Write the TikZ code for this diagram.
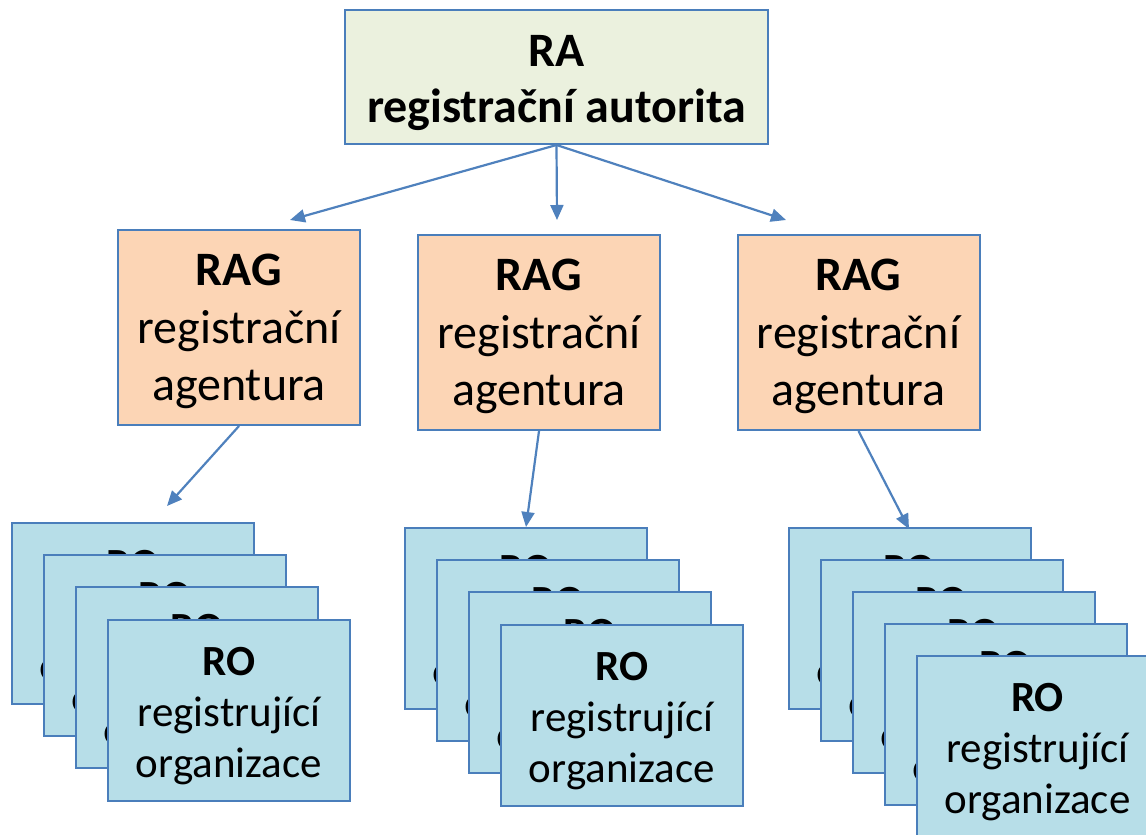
\documentclass[tikz,border=0pt]{standalone}
\usepackage{fontspec}
\setmainfont{Carlito}
\usetikzlibrary{arrows.meta}
\definecolor{edgeblue}{HTML}{4A7EBB}
\definecolor{arrowblue}{HTML}{4F81BD}
\definecolor{rafill}{HTML}{EBF1DE}
\definecolor{ragfill}{HTML}{FCD5B5}
\definecolor{rofill}{HTML}{B7DEE8}
\newcommand\mkro[3]{\node[robox] (#1) at (#2,#3) {\rule{0pt}{40pt}\textbf{RO}\\registrující\\organizace};}
\newcommand\mkrag[3]{\node[ragbox] (#1) at (#2,#3) {\rule{0pt}{40pt}\textbf{RAG}\\registrační\\agentura};}
\begin{document}
\begin{tikzpicture}[x=1pt,y=-1pt,
  basebox/.style={draw=edgeblue, line width=2pt, align=center, inner sep=0pt},
  rabox/.style={basebox, fill=rafill, minimum width=423pt, minimum height=134pt,
    font=\fontsize{48}{56}\selectfont\bfseries},
  ragbox/.style={basebox, fill=ragfill, minimum width=242pt, minimum height=195pt,
    font=\fontsize{48}{57.5}\selectfont},
  robox/.style={basebox, fill=rofill, minimum width=242pt, minimum height=181pt,
    font=\fontsize{43}{51}\selectfont},
  conn/.style={draw=arrowblue, line width=2.2pt, -{Triangle[length=15pt, width=13pt]}}]
\useasboundingbox (0,0) rectangle (1146,835);
\clip (0,0) rectangle (1146,835);

% top
\node[rabox] (ra) at (556.5,77) {\rule{0pt}{44pt}RA\\registrační autorita};

% agencies
\mkrag{rag1}{239}{327.5}
\mkrag{rag2}{539}{332.5}
\mkrag{rag3}{858.5}{332.5}

% left stack
\mkro{roa1}{133}{613.5}
\mkro{roa2}{165}{645.5}
\mkro{roa3}{197}{677.5}
\mkro{roa4}{229}{710}

% middle stack
\mkro{rob1}{526}{618.5}
\mkro{rob2}{558}{650.5}
\mkro{rob3}{590}{682.5}
\mkro{rob4}{622}{715}

% right stack
\mkro{roc1}{909.5}{618.5}
\mkro{roc2}{941.5}{650.5}
\mkro{roc3}{973.5}{682.5}
\mkro{roc4}{1005.5}{714.5}
\mkro{roc5}{1037.5}{746.5}

% connector end points
\coordinate (t1) at (290,220);
\coordinate (t2) at (557,220);
\coordinate (t3) at (786,220);
\coordinate (ta) at (167,506);
\coordinate (tc) at (909,529);

\draw[conn] (ra.south) -- (t1);
\draw[conn] (ra.south) -- (t2);
\draw[conn] (ra.south) -- (t3);
\draw[conn] (rag1.south) -- (ta);
\draw[conn] (rag2.south) -- (rob1.north);
\draw[conn] (rag3.south) -- (tc);
\end{tikzpicture}
\end{document}
